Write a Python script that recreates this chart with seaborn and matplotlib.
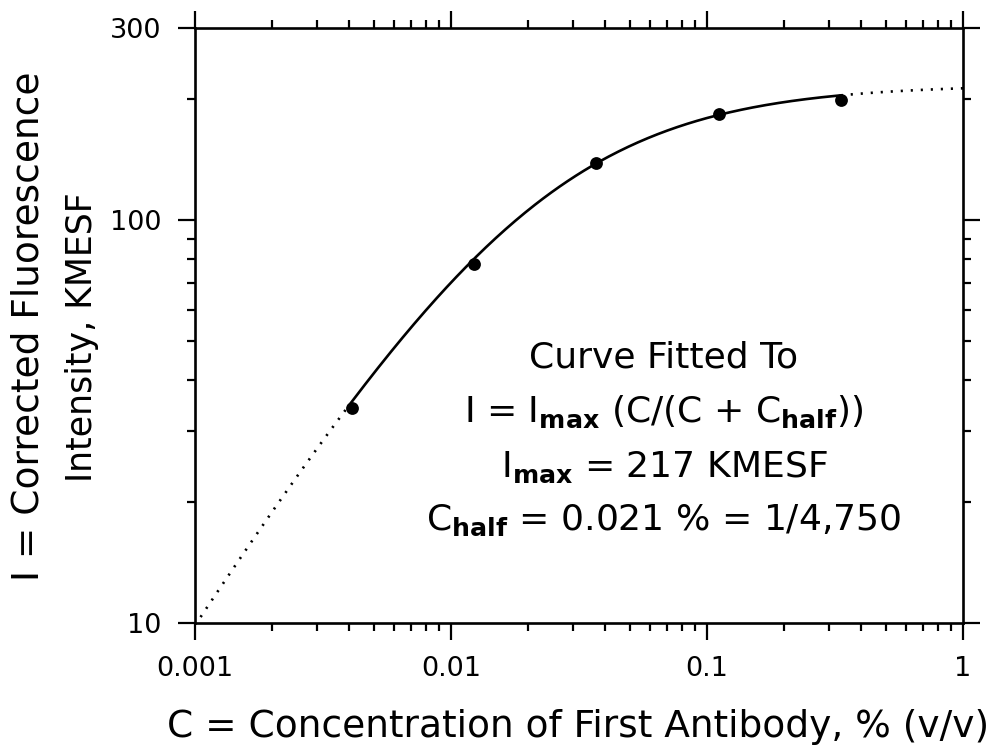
import numpy as np
import pandas as pd
import matplotlib
matplotlib.use("Agg")
import matplotlib.pyplot as plt
from matplotlib.ticker import FixedLocator, FixedFormatter, NullFormatter
import seaborn as sns

# Measured fluorescence vs. antibody concentration (3-fold dilution series)
conc = [0.0041, 0.0123, 0.037, 0.111, 0.333]          # % (v/v)
intensity = [34.1, 77.8, 139.0, 184.0, 199.0]         # KMESF

# Fitted saturation-binding parameters
i_max = 217.0      # KMESF
c_half = 0.021     # % (v/v)

x_ticks = [0.001, 0.01, 0.1, 1]
x_tick_labels = ["0.001", "0.01", "0.1", "1"]
x_minor = [m * d for d in (0.001, 0.01, 0.1) for m in range(2, 10)]
y_ticks = [10, 100, 300]
y_tick_labels = ["10", "100", "300"]
y_minor = [20, 30, 40, 50, 60, 70, 80, 90, 200]

sns.set_style("ticks")
plt.rcParams["font.family"] = ["DejaVu Sans"]
plt.rcParams["mathtext.fontset"] = "dejavusans"
for key in ("text.color", "axes.labelcolor", "xtick.color", "ytick.color",
            "axes.edgecolor"):
    plt.rcParams[key] = "black"

W, H = 998, 750
fig = plt.figure(figsize=(W / 100, H / 100), dpi=100)
fig.patch.set_facecolor("white")
left, right, top, bottom = 195, 963, 28, 623
ax = fig.add_axes([left / W, 1 - bottom / H, (right - left) / W, (bottom - top) / H])


def model(c):
    c = np.asarray(c)
    return i_max * c / (c + c_half)


# Fitted curve: solid across the measured range, dotted extrapolation outside it
seg_low = np.logspace(np.log10(x_ticks[0]), np.log10(conc[0]), 60)
seg_mid = np.logspace(np.log10(conc[0]), np.log10(conc[-1]), 300)
seg_high = np.logspace(np.log10(conc[-1]), np.log10(x_ticks[-1]), 60)

dotted = dict(color="black", linewidth=1.9, linestyle=(0, (0.8, 3.0)),
              estimator=None, sort=False, ax=ax)
sns.lineplot(x=seg_low, y=model(seg_low), **dotted)
sns.lineplot(x=seg_high, y=model(seg_high), **dotted)
sns.lineplot(x=seg_mid, y=model(seg_mid), color="black", linewidth=1.9,
             estimator=None, sort=False, ax=ax)

data = pd.DataFrame({"C": conc, "I": intensity})
sns.scatterplot(data=data, x="C", y="I", color="black", s=85,
                edgecolor="black", linewidth=0, zorder=5, ax=ax)

ax.set_xscale("log")
ax.set_yscale("log")
ax.set_xlim(x_ticks[0], x_ticks[-1])
ax.set_ylim(y_ticks[0], y_ticks[-1])

ax.xaxis.set_major_locator(FixedLocator(x_ticks))
ax.xaxis.set_major_formatter(FixedFormatter(x_tick_labels))
ax.xaxis.set_minor_locator(FixedLocator(x_minor))
ax.xaxis.set_minor_formatter(NullFormatter())
ax.yaxis.set_major_locator(FixedLocator(y_ticks))
ax.yaxis.set_major_formatter(FixedFormatter(y_tick_labels))
ax.yaxis.set_minor_locator(FixedLocator(y_minor))
ax.yaxis.set_minor_formatter(NullFormatter())

ax.tick_params(which="both", direction="out", top=True, right=True,
               labeltop=False, labelright=False, color="black", width=1.6)
ax.tick_params(which="major", length=12, labelsize=19.5, pad=12)
ax.tick_params(which="minor", length=6)

for sp in ax.spines.values():
    sp.set_visible(True)
    sp.set_linewidth(1.9)
    sp.set_color("black")

ax.set_xlabel("")
ax.set_ylabel("")

# Axis titles
fig.text(578 / W, 1 - 727 / H, "C = Concentration of First Antibody, % (v/v)",
         ha="center", va="center", fontsize=27)
fig.text(29 / W, 1 - 326 / H, "I = Corrected Fluorescence",
         ha="center", va="center", rotation=90, fontsize=27)
fig.text(82 / W, 1 - 337 / H, "Intensity, KMESF",
         ha="center", va="center", rotation=90, fontsize=25)

# Fit annotation
note_x = 664 / W
note_lines = [
    (357, "Curve Fitted To"),
    (412, r"I = I$_{\mathbf{max}}$ (C/(C + C$_{\mathbf{half}}$))"),
    (467, r"I$_{\mathbf{max}}$ = %d KMESF" % int(i_max)),
    (520, r"C$_{\mathbf{half}}$ = %.3f %% = 1/4,750" % c_half),
]
for yy, txt in note_lines:
    fig.text(note_x, 1 - yy / H, txt, ha="center", va="center", fontsize=26)

fig.savefig("out.png", dpi=100, facecolor="white")
